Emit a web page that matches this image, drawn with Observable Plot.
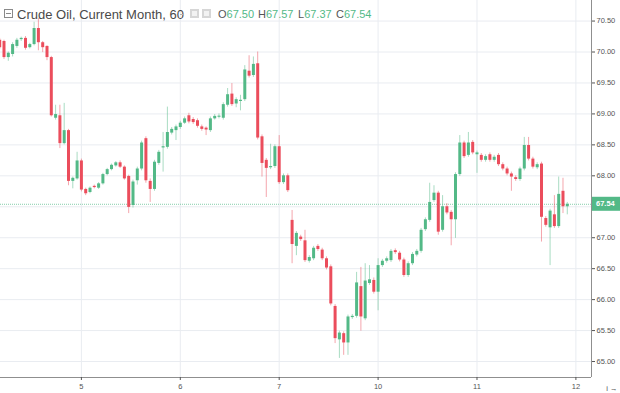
<!DOCTYPE html>
<html><head><meta charset="utf-8">
<script src="https://cdn.jsdelivr.net/npm/d3@7"></script>
<script src="https://cdn.jsdelivr.net/npm/@observablehq/plot@0.6"></script>
<style>
html,body{margin:0;padding:0;background:#fff;}
#wrap{position:relative;width:620px;height:393px;overflow:hidden;font-family:"Liberation Sans",Arial,sans-serif;}
#chart svg{display:block;}
.h{position:absolute;white-space:nowrap;line-height:1;}
#title{left:17px;top:8px;font-size:13px;color:#4a4a4a;}
#ico{left:4px;top:9px;width:7px;height:7px;border:1px solid #8a8a8a;}
#ico:after{content:"";position:absolute;left:1px;right:1px;top:3px;height:1px;background:#8a8a8a;}
#dash{left:180px;top:14px;width:4px;height:1px;background:#b0b0b0;}
.bx{top:9px;width:9px;height:9px;background:#d6d6d6;}
.bx:after{content:"";position:absolute;left:2px;top:2px;width:5px;height:5px;background:#f2f2f2;}
.ohlc{top:9px;font-size:11px;color:#555;}
.ohlc b{font-weight:normal;color:#53b987;}
</style></head><body>
<div id="wrap"><div id="chart"></div>
<span class="h" id="ico"></span>
<span class="h" id="title">Crude Oil, Current Month, 60</span>
<span class="h" id="dash"></span>
<span class="h bx" style="left:190px"></span>
<span class="h bx" style="left:202px"></span>
<span class="h ohlc" id="oO" style="left:218px"></span>
<span class="h ohlc" id="oH" style="left:258px"></span>
<span class="h ohlc" id="oL" style="left:298px"></span>
<span class="h ohlc" id="oC" style="left:336px"></span>
</div>
<script>
// ---- data (hourly bars, index of the first bar = firstBar) ----
const firstBar = -1;
const opens = [70.19,70.17,69.91,69.96,70.09,70.20,70.22,70.07,70.12,70.38,70.15,70.09,69.91,68.93,68.97,68.52,68.73,67.91,67.95,68.24,67.78,67.73,67.83,67.80,67.87,68.02,68.10,68.16,68.21,68.14,67.99,67.52,67.92,68.11,68.60,67.91,67.78,68.20,68.45,68.46,68.69,68.73,68.78,68.85,68.97,68.91,68.89,68.79,68.77,68.73,68.92,68.95,68.93,69.14,69.32,69.16,69.20,69.23,69.69,69.62,69.81,68.63,68.25,68.13,68.15,68.47,67.89,68.00,67.28,66.86,67.01,66.95,66.62,66.66,66.86,66.80,66.66,66.53,65.89,65.35,65.45,65.30,65.71,65.73,66.21,65.69,66.26,66.31,66.12,66.55,66.62,66.63,66.79,66.75,66.64,66.39,66.58,66.72,66.78,67.13,67.28,67.60,67.72,67.12,67.50,67.41,67.29,68.02,68.53,68.33,68.54,68.34,68.33,68.25,68.34,68.25,68.33,68.18,68.11,68.03,67.97,67.94,68.11,68.49,68.27,68.13,68.19,67.31,67.16,67.37,67.18,67.75,67.50];
const highs = [70.22,70.19,70.00,70.15,70.22,70.24,70.25,70.14,70.48,70.54,70.17,70.10,69.93,69.14,69.14,69.17,68.75,67.98,68.38,68.27,67.80,67.82,67.85,67.89,68.04,68.12,68.19,68.23,68.24,68.16,68.01,67.93,68.14,68.56,68.63,67.95,68.25,68.41,68.70,69.11,68.78,68.82,68.88,68.95,69.01,68.94,68.92,68.82,68.79,68.95,68.99,69.00,69.18,69.41,69.49,69.26,69.30,69.78,69.94,69.92,70.00,68.66,68.28,68.51,68.50,68.65,68.03,68.03,67.44,67.10,67.04,67.12,66.71,66.86,66.89,66.83,66.69,66.56,65.92,65.49,65.48,65.75,65.76,66.44,66.52,66.58,66.55,66.35,66.66,66.65,66.69,66.81,66.82,66.78,66.67,66.61,66.76,66.81,67.15,67.32,67.88,67.84,67.75,67.68,67.55,67.44,68.05,68.65,68.56,68.70,68.57,68.40,68.36,68.34,68.37,68.33,68.36,68.21,68.14,68.06,68.00,68.14,68.62,68.62,68.30,68.21,68.22,67.34,67.46,67.68,67.98,67.96,67.57];
const lows = [70.04,69.88,69.85,69.92,70.06,70.17,70.03,70.05,70.10,70.02,69.99,69.86,68.95,68.90,68.44,68.50,67.84,67.79,67.93,67.74,67.68,67.71,67.79,67.78,67.85,68.00,68.08,68.14,68.12,67.93,67.39,67.48,67.85,68.08,67.88,67.57,67.75,68.17,68.06,68.43,68.66,68.57,68.75,68.83,68.84,68.83,68.77,68.72,68.65,68.70,68.90,68.92,68.90,69.11,69.12,69.10,69.05,69.20,69.58,69.59,68.58,67.98,67.65,68.10,68.12,67.86,67.86,67.73,66.58,66.71,66.94,66.60,66.59,66.63,66.78,66.63,66.48,65.90,65.29,65.05,65.10,65.10,65.68,65.70,65.49,65.66,66.23,66.09,65.82,66.52,66.59,66.60,66.73,66.61,66.36,66.36,66.55,66.69,66.75,67.10,67.25,67.57,67.04,67.09,67.37,66.87,66.99,67.99,68.28,68.30,68.34,68.04,68.22,68.22,68.22,68.22,68.15,68.08,68.00,67.75,67.91,67.91,68.08,68.24,68.11,68.10,66.93,67.17,66.55,67.15,67.15,67.39,67.37];
const closes = [70.07,69.91,69.98,70.12,70.19,70.22,70.06,70.12,70.38,70.15,70.07,69.91,68.97,68.99,68.52,68.73,67.91,67.96,68.24,67.77,67.71,67.80,67.81,67.87,68.02,68.10,68.17,68.21,68.14,67.95,67.49,67.90,68.11,68.53,67.92,67.78,68.22,68.38,68.47,68.70,68.75,68.79,68.85,68.92,68.87,68.86,68.80,68.75,68.74,68.92,68.96,68.96,69.15,69.31,69.15,69.23,69.22,69.71,69.61,69.80,68.61,68.20,68.12,68.15,68.47,67.89,68.00,67.76,66.89,67.07,66.97,66.63,66.68,66.83,66.81,66.66,66.51,65.93,65.37,65.46,65.30,65.72,65.73,66.27,65.72,66.30,66.32,66.12,66.55,66.62,66.66,66.78,66.76,66.64,66.39,66.58,66.73,66.78,67.12,67.29,67.57,67.72,67.09,67.50,67.40,67.29,68.02,68.53,68.31,68.53,68.37,68.37,68.25,68.31,68.25,68.30,68.18,68.11,68.03,67.98,67.94,68.11,68.49,68.27,68.14,68.18,67.33,67.20,67.43,67.18,67.70,67.50,67.54];
const dayTickBars = [18, 41, 64, 87, 110, 133];
const dayLabels = ["5", "6", "7", "10", "11", "12"];
const priceTicks = [65, 65.5, 66, 66.5, 67, 67.5, 68, 68.5, 69, 69.5, 70, 70.5];

// ---- view settings ----
const green = "#53b987", red = "#eb4d5c";
const xDomain = [-0.814, 136.63];
const yDomain = [64.742, 70.832];

const bars = opens.map((o, k) => {
  const c = closes[k];
  let b1 = Math.min(o, c), b2 = Math.max(o, c);
  const minBody = 0.018;
  if (b2 - b1 < minBody) { const m = (b1 + b2) / 2; b1 = m - minBody / 2; b2 = m + minBody / 2; }
  return {i: firstBar + k, o, h: highs[k], l: lows[k], c, b1, b2, up: c >= o};
});
const last = bars[bars.length - 1];

const plot = Plot.plot({
  width: 620, height: 393,
  marginLeft: 0, marginRight: 29, marginTop: 0, marginBottom: 16,
  x: {domain: xDomain, axis: null},
  y: {domain: yDomain, axis: null},
  style: {fontFamily: "Liberation Sans, Arial, sans-serif", fontSize: "7.5px", background: "#fff"},
  marks: [
    Plot.gridY(priceTicks, {stroke: "#e9ecf1", strokeOpacity: 1}),
    Plot.gridX(dayTickBars, {stroke: "#e9ecf1", strokeOpacity: 1}),
    Plot.ruleY([last.c], {stroke: green, strokeOpacity: 0.7, strokeDasharray: "1 1"}),
    Plot.ruleX(bars, {x: "i", y1: "l", y2: "h", stroke: d => d.up ? green : red, strokeOpacity: 0.5, clip: true}),
    Plot.ruleX(bars, {x: "i", y1: "b1", y2: "b2", stroke: d => d.up ? green : red, strokeWidth: 3, clip: true}),
    Plot.ruleX([xDomain[1]], {stroke: "#8f8f8f"}),
    Plot.ruleY([yDomain[0]], {stroke: "#8f8f8f"}),
    Plot.axisY(priceTicks, {anchor: "right", tickSize: 3, tickPadding: 2, color: "#555",
      tickFormat: d => (Math.abs(d - last.c) < 0.1 ? "" : d.toFixed(2))}),
    Plot.axisX(dayTickBars, {anchor: "bottom", tickSize: 3, tickPadding: 3, color: "#555",
      tickFormat: d => dayLabels[dayTickBars.indexOf(d)]})
  ]
});
document.getElementById("chart").appendChild(plot);

// current price label on the price axis
const svg = d3.select(plot);
const py = plot.scale("y").apply(last.c);
const px = plot.scale("x").apply(xDomain[1]);
svg.append("rect").attr("x", px + 1).attr("y", py - 7).attr("width", 620 - px - 1).attr("height", 14).attr("fill", green);
svg.append("text").attr("x", px + 5).attr("y", py).attr("dy", "0.35em").attr("fill", "#fff")
  .attr("text-anchor", "start").attr("font-size", "7.5px").attr("font-weight", "bold").text(last.c.toFixed(2));

// header legend values
const fmt = v => v.toFixed(2);
document.getElementById("oO").innerHTML = "O<b>" + fmt(last.o) + "</b>";
document.getElementById("oH").innerHTML = "H<b>" + fmt(last.h) + "</b>";
document.getElementById("oL").innerHTML = "L<b>" + fmt(last.l) + "</b>";
document.getElementById("oC").innerHTML = "C<b>" + fmt(last.c) + "</b>";
</script>
</body></html>
